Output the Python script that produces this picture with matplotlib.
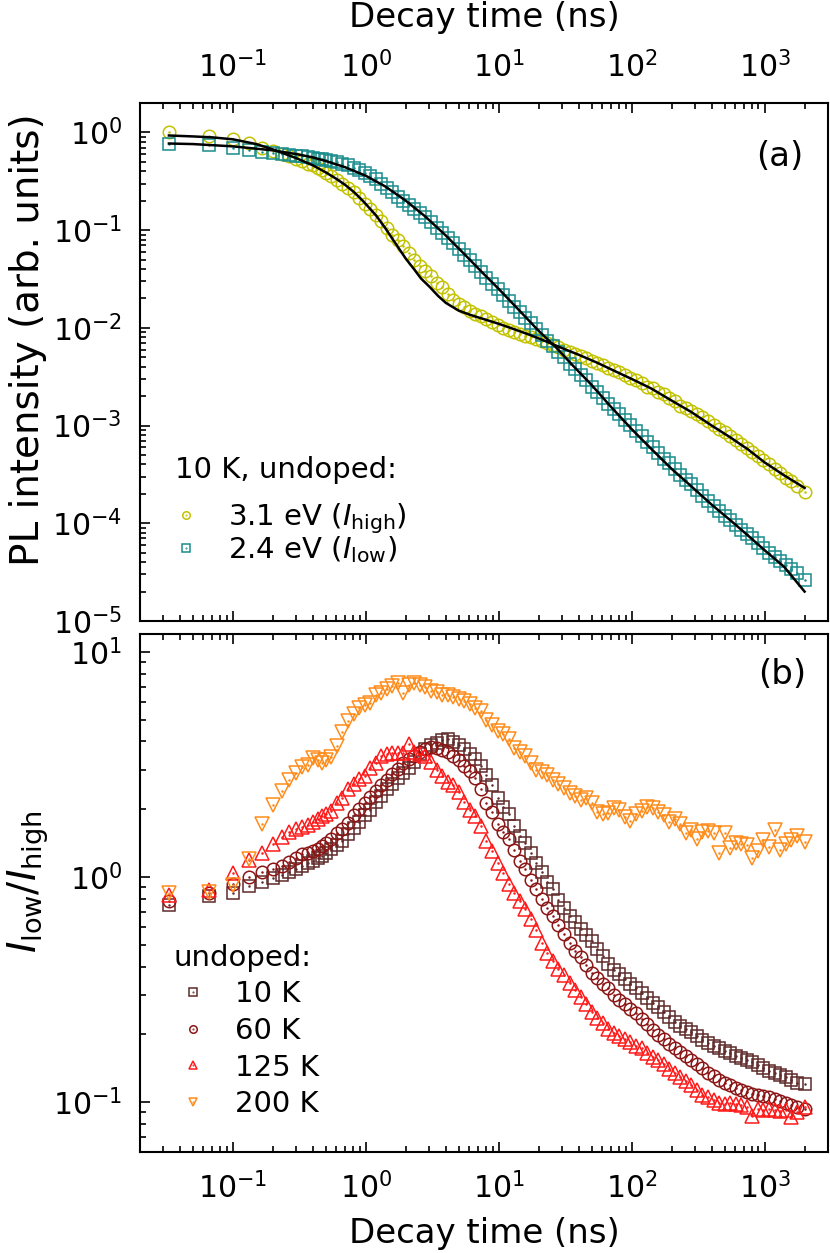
import matplotlib
matplotlib.use('Agg')
import matplotlib.pyplot as plt
from matplotlib.ticker import LogLocator, NullFormatter

# ---------------- data ----------------
time_ns = [0.033, 0.066, 0.1, 0.133, 0.166, 0.2, 0.233, 0.266, 0.3, 0.333, 0.366, 0.4, 0.433, 0.466, 0.5,
           0.55, 0.606, 0.667, 0.734, 0.808, 0.889, 0.979, 1.08, 1.19, 1.31, 1.44, 1.58, 1.74, 1.92, 2.11,
           2.32, 2.56, 2.81, 3.1, 3.41, 3.75, 4.13, 4.55, 5.0,
           5.5, 6.06, 6.67, 7.34, 8.08, 8.89, 9.79, 10.8, 11.9, 13.1, 14.4, 15.8, 17.4, 19.2, 21.1, 23.2,
           25.6, 28.1, 31.0, 34.1, 37.5, 41.3, 45.5, 50,
           55, 60.6, 66.7, 73.4, 80.8, 88.9, 97.9, 108, 119, 131, 144, 158, 174, 192, 211, 232, 256, 281,
           310, 341, 375, 413, 455, 500,
           550, 606, 667, 734, 808, 889, 979, 1080, 1190, 1310, 1440, 1580, 1740, 2000]

# (a) PL intensity at 10 K, undoped
pl_high_31eV = [1.00, 0.92, 0.86, 0.78, 0.70, 0.64, 0.60, 0.57, 0.54, 0.51, 0.48, 0.46, 0.43, 0.41, 0.385,
                0.36, 0.325, 0.295, 0.27, 0.245, 0.215, 0.185, 0.163, 0.142, 0.123, 0.104, 0.090, 0.080, 0.068, 0.058,
                0.050, 0.043, 0.038, 0.034, 0.029, 0.026, 0.022, 0.0195, 0.0175,
                0.0162, 0.0150, 0.0140, 0.0131, 0.0123, 0.0115, 0.0106, 0.0100, 0.0095, 0.0090, 0.0086, 0.0083,
                0.0080, 0.0076, 0.0073, 0.0070, 0.0067, 0.0063, 0.0060, 0.0057, 0.0054, 0.0052, 0.0049, 0.0046,
                0.0044, 0.0042, 0.0039, 0.0037, 0.0035, 0.0033, 0.0031, 0.0029, 0.0027, 0.0025, 0.0024, 0.0022,
                0.0021, 0.0019, 0.0018, 0.0016, 0.0015, 0.0014, 0.0013, 0.00121, 0.00111, 0.00102, 0.00093, 0.00085,
                0.00078, 0.00071, 0.00065, 0.00059, 0.00054, 0.00049, 0.00044, 0.00040, 0.00036, 0.00033, 0.00029,
                0.00027, 0.00024, 0.00021]

pl_low_24eV = [0.77, 0.74, 0.70, 0.66, 0.63, 0.615, 0.60, 0.59, 0.58, 0.57, 0.56, 0.55, 0.54, 0.53, 0.52,
               0.51, 0.50, 0.48, 0.46, 0.43, 0.41, 0.38, 0.355, 0.33, 0.30, 0.27, 0.245, 0.22, 0.20, 0.18,
               0.165, 0.150, 0.135, 0.120, 0.106, 0.094, 0.083, 0.073, 0.064,
               0.056, 0.049, 0.043, 0.037, 0.032, 0.028, 0.025, 0.0215, 0.019, 0.0165, 0.0145, 0.0127, 0.0111,
               0.0097, 0.0085, 0.0074, 0.0065, 0.0057, 0.0050, 0.0043, 0.0038, 0.0033, 0.0029, 0.0025,
               0.0022, 0.0019, 0.00168, 0.00148, 0.00130, 0.00115, 0.00101, 0.00089, 0.00078, 0.00068, 0.00060,
               0.00053, 0.00046, 0.00041, 0.00036, 0.00031, 0.00028, 0.00025, 0.00022, 0.00019, 0.000170,
               0.000152, 0.000135, 0.000120,
               0.000107, 0.000096, 0.000086, 0.000078, 0.000070, 0.000063, 0.000056, 0.000050, 0.000045,
               0.000041, 0.000037, 0.000034, 0.000031, 0.000026]

fit_time_high = [0.033, 0.05, 0.07, 0.1, 0.15, 0.2, 0.3, 0.4, 0.5, 0.6, 0.7, 0.8, 0.9, 1.0, 1.2, 1.4, 1.6,
                 1.8, 2.0, 2.3, 2.6, 3.0, 3.5, 4.0, 5.0, 6.0, 7.0, 8.0, 10, 13, 17, 22, 30, 40, 55, 75, 100,
                 140, 200, 280, 400, 550, 750, 1000, 1400, 2000]
fit_high = [0.93, 0.91, 0.89, 0.85, 0.76, 0.67, 0.545, 0.46, 0.39, 0.335, 0.29, 0.25, 0.215, 0.185, 0.14,
            0.105, 0.08, 0.063, 0.051, 0.040, 0.032, 0.0265, 0.0212, 0.0180, 0.0150, 0.0137, 0.0128, 0.0121,
            0.0110, 0.0097, 0.0085, 0.0074, 0.0062, 0.0053, 0.0044, 0.0036, 0.0030, 0.0024, 0.0018, 0.00138,
            0.00100, 0.00076, 0.00057, 0.00042, 0.00031, 0.00023]

fit_time_low = [0.033, 0.05, 0.1, 0.2, 0.3, 0.4, 0.5, 0.7, 1.0, 1.4, 2.0, 2.8, 4.0, 5.5, 7.5, 10, 14, 20,
                27, 35, 50, 70, 100, 140, 200, 280, 400, 550, 750, 1000, 1400, 2000]
fit_low = [0.77, 0.76, 0.72, 0.655, 0.60, 0.555, 0.51, 0.44, 0.36, 0.28, 0.20, 0.138, 0.088, 0.057, 0.037,
           0.025, 0.0155, 0.0093, 0.0063, 0.0043, 0.0026, 0.00155, 0.00092, 0.00058, 0.00036, 0.00024,
           0.000155, 0.000108, 0.000075, 0.000053, 0.000036, 0.000020]

# (b) ratio I_low / I_high, undoped
ratio_10K = [0.75, 0.82, 0.85, 0.91, 0.95, 0.99, 1.02, 1.05, 1.08, 1.12, 1.15, 1.18, 1.21, 1.24, 1.28,
             1.33, 1.38, 1.45, 1.55, 1.65, 1.76, 1.88, 1.98, 2.15, 2.30, 2.45, 2.58, 2.75, 2.90, 3.05,
             3.25, 3.50, 3.70, 3.85, 3.95, 4.05, 4.08, 3.98, 3.85,
             3.70, 3.52, 3.35, 3.12, 2.85, 2.55, 2.25, 2.05, 1.90, 1.68, 1.52, 1.42, 1.28, 1.15, 1.05, 0.95,
             0.88, 0.79, 0.73, 0.67, 0.63, 0.59, 0.55, 0.52,
             0.48, 0.445, 0.41, 0.385, 0.37, 0.352, 0.335, 0.32, 0.305, 0.29, 0.276, 0.265, 0.252, 0.238,
             0.226, 0.218, 0.212, 0.205, 0.196, 0.189, 0.183, 0.178, 0.173, 0.169,
             0.165, 0.160, 0.157, 0.154, 0.150, 0.146, 0.142, 0.137, 0.134, 0.132, 0.129, 0.125, 0.121, 0.120]

ratio_60K = [0.78, 0.85, 0.93, 1.00, 1.05, 1.09, 1.12, 1.17, 1.22, 1.26, 1.28, 1.30, 1.33, 1.37, 1.41,
             1.47, 1.56, 1.64, 1.73, 1.88, 2.00, 2.13, 2.26, 2.40, 2.55, 2.70, 2.86, 3.02, 3.20, 3.35,
             3.46, 3.60, 3.70, 3.78, 3.75, 3.68, 3.58, 3.46, 3.30,
             3.12, 2.95, 2.76, 2.45, 2.12, 1.94, 1.72, 1.58, 1.47, 1.32, 1.18, 1.08, 0.97, 0.88, 0.80, 0.73,
             0.67, 0.61, 0.56, 0.51, 0.47, 0.44, 0.405, 0.375,
             0.355, 0.335, 0.322, 0.30, 0.285, 0.272, 0.26, 0.248, 0.235, 0.222, 0.208, 0.198, 0.19, 0.181,
             0.174, 0.167, 0.160, 0.153, 0.147, 0.141, 0.135, 0.130, 0.125, 0.122,
             0.119, 0.115, 0.113, 0.111, 0.109, 0.108, 0.106, 0.105, 0.103, 0.101, 0.099, 0.097, 0.095, 0.093]

ratio_125K = [0.83, 0.875, 1.04, 1.19, 1.28, 1.40, 1.50, 1.58, 1.64, 1.67, 1.70, 1.76, 1.80, 1.86, 1.90,
              1.97, 2.12, 2.25, 2.45, 2.60, 2.72, 2.82, 3.05, 3.20, 3.45, 3.52, 3.55, 3.55, 3.56, 3.90,
              3.58, 3.52, 3.45, 3.25, 3.00, 2.80, 2.65, 2.55, 2.38,
              2.15, 1.98, 1.86, 1.68, 1.45, 1.30, 1.15, 1.04, 0.93, 0.85, 0.78, 0.72, 0.65, 0.58, 0.51, 0.46,
              0.425, 0.39, 0.365, 0.338, 0.315, 0.293, 0.272, 0.252,
              0.236, 0.224, 0.212, 0.202, 0.196, 0.19, 0.184, 0.178, 0.174, 0.166, 0.159, 0.153, 0.147, 0.140,
              0.134, 0.129, 0.124, 0.119, 0.113, 0.108, 0.105, 0.102, 0.099, 0.098,
              0.099, 0.098, 0.097, 0.095, 0.087, 0.093, 0.092, 0.093, 0.092, 0.091, 0.092, 0.086, 0.090, 0.095]

ratio_200K = [0.85, 0.86, 0.92, 1.20, 1.72, 2.08, 2.40, 2.70, 2.90, 3.08, 3.15, 3.38, 3.30, 3.20, 3.30,
              3.40, 3.80, 4.40, 4.95, 5.30, 5.62, 5.80, 5.95, 6.40, 6.55, 6.85, 7.05, 7.24, 6.55, 7.10,
              7.30, 7.10, 6.95, 6.70, 6.60, 6.45, 6.40, 6.30, 6.15,
              6.05, 5.85, 5.65, 5.45, 5.00, 4.75, 4.45, 4.30, 4.10, 3.75, 3.58, 3.45, 3.20, 3.00, 2.92, 2.85,
              2.70, 2.58, 2.48, 2.35, 2.28, 2.20, 2.25, 2.12,
              1.95, 1.90, 1.92, 2.02, 1.98, 1.85, 1.78, 1.90, 1.96, 2.05, 2.02, 1.95, 1.88, 1.76,
              1.80, 1.72, 1.56, 1.62, 1.47, 1.58, 1.60, 1.56, 1.28, 1.56,
              1.34, 1.42, 1.40, 1.38, 1.22, 1.30, 1.46, 1.36, 1.62, 1.32, 1.40, 1.46, 1.52, 1.43]

top_labels = [r'3.1 eV ($I_{\mathrm{high}}$)', r'2.4 eV ($I_{\mathrm{low}}$)']
top_title = '10 K, undoped:'
bottom_labels = ['10 K', '60 K', '125 K', '200 K']
bottom_title = 'undoped:'

# ---------------- styling ----------------
C_HIGH = '#c2c200'
C_LOW = '#1a8c8c'
C_B = ['#5e2a2a', '#8c1616', '#ff1a1a', '#ff8c1a']
MK_B = ['s', 'o', '^', 'v']

FS_LABEL = 24.5
FS_YLABEL = 28
FS_TICK = 21.5
FS_LEG = 21

plt.rcParams['font.family'] = ['DejaVu Sans']
plt.rcParams['mathtext.fontset'] = 'dejavusans'

fig = plt.figure(figsize=(8.3, 12.53), dpi=100)
W, H = 830.0, 1253.0
L, R = 140, 828
AW = R - L
ax1 = fig.add_axes([L / W, 1 - 621 / H, AW / W, (621 - 103) / H])
ax2 = fig.add_axes([L / W, 1 - 1152 / H, AW / W, (1152 - 634) / H])


def marks(ax, x, y, marker, color, ms):
    h1, = ax.plot(x, y, ls='none', marker=marker, ms=ms, mfc='none', mec=color, mew=1.1, zorder=3)
    h2, = ax.plot(x, y, ls='none', marker='.', ms=1.6, color=color, zorder=3)
    return (h1, h2)


def style_axis(ax):
    ax.set_xscale('log')
    ax.set_yscale('log')
    ax.set_xlim(0.02, 3000)
    for s in ax.spines.values():
        s.set_linewidth(1.5)
    ax.xaxis.set_major_locator(LogLocator(base=10, numticks=20))
    ax.xaxis.set_minor_locator(LogLocator(base=10, subs=range(2, 10), numticks=20))
    ax.xaxis.set_minor_formatter(NullFormatter())
    ax.yaxis.set_major_locator(LogLocator(base=10, numticks=20))
    ax.yaxis.set_minor_locator(LogLocator(base=10, subs=range(2, 10), numticks=20))
    ax.yaxis.set_minor_formatter(NullFormatter())
    ax.tick_params(which='both', direction='in', top=True, right=False, width=1.2,
                   labelsize=FS_TICK)
    ax.tick_params(which='major', length=7)
    ax.tick_params(which='minor', length=4)
    ax.tick_params(axis='y', pad=13)
    ax.tick_params(axis='x', pad=14)


# ---------------- panel (a) ----------------
style_axis(ax1)
ax1.set_ylim(1e-5, 2.0)
hh = marks(ax1, time_ns, pl_high_31eV, 'o', C_HIGH, 9)
hl = marks(ax1, time_ns, pl_low_24eV, 's', C_LOW, 8.5)
ax1.plot(fit_time_high, fit_high, color='black', lw=1.8, zorder=4)
ax1.plot(fit_time_low, fit_low, color='black', lw=1.8, zorder=4)
ax1.tick_params(axis='x', labeltop=True, labelbottom=False)
ax1.set_xlabel('Decay time (ns)', fontsize=FS_LABEL)
ax1.xaxis.set_label_position('top')
ax1.xaxis.set_label_coords(0.5, (621 - 17) / 518)
ax1.xaxis.label.set_va('center')
ax1.set_ylabel('PL intensity (arb. units)', fontsize=FS_YLABEL)
ax1.yaxis.set_label_coords((28 - 140) / AW, (621 - 340) / 518)
ax1.yaxis.label.set_va('center')
ax1.text((780 - 140) / AW, (621 - 157) / 518, '(a)', transform=ax1.transAxes,
         fontsize=FS_LABEL, ha='center', va='center')
ax1.text((175 - 140) / AW, (621 - 470) / 518, top_title, transform=ax1.transAxes,
         fontsize=FS_LEG, ha='left', va='center')
ax1.legend([hh, hl], top_labels, loc='upper left',
           bbox_to_anchor=((174 - 140) / AW, (621 - 501) / 518), frameon=False,
           fontsize=FS_LEG, handlelength=0.8, handletextpad=1.05, labelspacing=-0.05,
           borderaxespad=0, borderpad=0, markerscale=0.6)

# ---------------- panel (b) ----------------
style_axis(ax2)
ax2.set_ylim(0.06, 12)
series_b = [ratio_10K, ratio_60K, ratio_125K, ratio_200K]
handles_b = []
for vals, c, m in zip(series_b, C_B, MK_B):
    ms = 9.5 if m in ('^', 'v') else (9 if m == 'o' else 8.5)
    handles_b.append(marks(ax2, time_ns, vals, m, c, ms))
ax2.set_xlabel('Decay time (ns)', fontsize=FS_LABEL)
ax2.xaxis.set_label_coords(0.5, (1152 - 1233) / 518)
ax2.xaxis.label.set_va('center')
ax2.set_ylabel(r'$I_{\mathrm{low}}/I_{\mathrm{high}}$', fontsize=FS_YLABEL)
ax2.yaxis.set_label_coords((28 - 140) / AW, (1152 - 882) / 518)
ax2.yaxis.label.set_va('center')
ax2.text((782 - 140) / AW, (1152 - 675) / 518, '(b)', transform=ax2.transAxes,
         fontsize=FS_LABEL, ha='center', va='center')
ax2.text((174 - 140) / AW, (1152 - 958) / 518, bottom_title, transform=ax2.transAxes,
         fontsize=FS_LEG, ha='left', va='center')
ax2.legend(handles_b, bottom_labels, loc='upper left',
           bbox_to_anchor=((174 - 140) / AW, (1152 - 980) / 518), frameon=False,
           fontsize=FS_LEG, handlelength=1.3, handletextpad=0.8, labelspacing=0.3,
           borderaxespad=0, borderpad=0, markerscale=0.6)

fig.savefig('out.png', dpi=100)
